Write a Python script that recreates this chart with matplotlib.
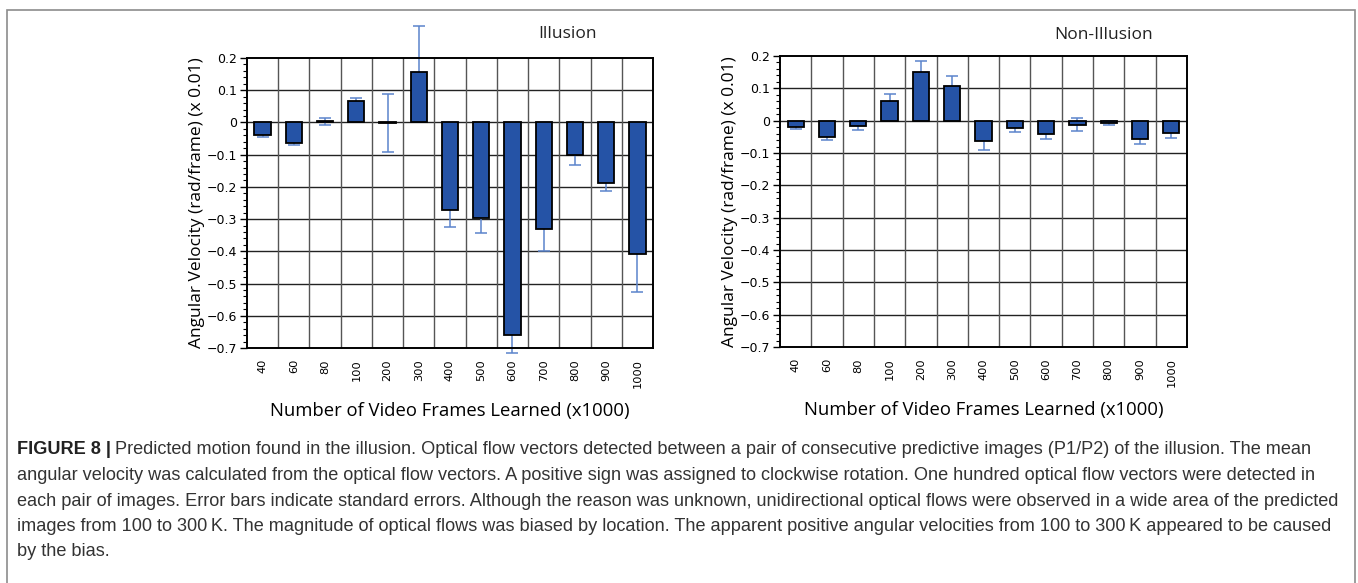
import numpy as np
import matplotlib
matplotlib.use('Agg')
import matplotlib.pyplot as plt
from matplotlib.ticker import MultipleLocator
from matplotlib.patches import Rectangle

# frames learned (x1000)
frames = ['40', '60', '80', '100', '200', '300', '400', '500', '600', '700', '800', '900', '1000']

# mean angular velocity and standard error
illusion_mean = [-0.039, -0.065, 0.003, 0.066, -0.002, 0.155, -0.273, -0.298, -0.659, -0.330, -0.101, -0.187, -0.409]
illusion_err = [0.007, 0.006, 0.012, 0.010, 0.089, 0.143, 0.050, 0.046, 0.055, 0.070, 0.032, 0.027, 0.118]

non_illusion_mean = [-0.021, -0.049, -0.018, 0.062, 0.152, 0.107, -0.064, -0.022, -0.040, -0.012, -0.006, -0.056, -0.037]
non_illusion_err = [0.005, 0.012, 0.010, 0.019, 0.032, 0.032, 0.027, 0.012, 0.018, 0.019, 0.006, 0.017, 0.016]

bar_color = '#2553a6'
err_color = '#5b84cc'
label_font = ['Open Sans', 'DejaVu Sans']
W, H = 1358, 583

fig = plt.figure(figsize=(W / 100, H / 100), dpi=100)

# outer frame around figure + caption
fig.patches.append(Rectangle((7 / W, -0.05), 1348 / W, 1.05 - 10 / H,
                             transform=fig.transFigure, fill=False,
                             edgecolor='#8c8c8c', linewidth=1.2))


def draw_panel(rect, means, errs, title, title_xy):
    ax = fig.add_axes(rect)
    x = np.arange(len(frames))
    ax.errorbar(x, means, yerr=errs, fmt='none', ecolor=err_color, elinewidth=1.1,
                capsize=4, capthick=1.1, zorder=2, clip_on=False)
    ax.bar(x, means, width=0.52, color=bar_color, edgecolor='black', linewidth=1.3, zorder=3)

    ax.set_xlim(-0.5, len(frames) - 0.5)
    ax.set_ylim(-0.7, 0.2)
    ax.yaxis.set_minor_locator(MultipleLocator(0.02))
    ax.set_yticks(np.arange(-0.7, 0.21, 0.1))
    ax.set_yticklabels(['\u22120.7', '\u22120.6', '\u22120.5', '\u22120.4', '\u22120.3', '\u22120.2',
                        '\u22120.1', '0', '0.1', '0.2'])
    for v in np.arange(-0.6, 0.15, 0.1):
        ax.axhline(v, color='#222222', linewidth=1.0, zorder=1)
    for b in np.arange(0.5, len(frames) - 0.5, 1):
        ax.axvline(b, color='#555555', linewidth=1.0, zorder=1)

    ax.set_xticks(x)
    ax.set_xticklabels(frames, rotation=90, fontsize=8.2, family=['Liberation Sans Narrow', 'DejaVu Sans'])
    ax.tick_params(axis='x', length=0, pad=8)
    ax.tick_params(axis='y', which='major', length=5, width=1, labelsize=9, pad=2)
    ax.tick_params(axis='y', which='minor', length=3, width=0.8)
    for s in ax.spines.values():
        s.set_linewidth(1.4)
        s.set_color('black')

    ax.set_ylabel('Angular Velocity (rad/frame) (x 0.01)', fontsize=12.5, family=label_font, labelpad=1)
    ax.set_xlabel('Number of Video Frames Learned (x1000)', fontsize=13.3, family=label_font, labelpad=10)
    fig.text(title_xy[0] / W, 1 - title_xy[1] / H, title, ha='center', va='center',
             fontsize=12.5, family=label_font, color='#222222')
    return ax


draw_panel([247 / W, 1 - 348 / H, 406 / W, 290 / H], illusion_mean, illusion_err, 'Illusion', (567, 34))
draw_panel([780 / W, 1 - 347 / H, 407 / W, 291 / H], non_illusion_mean, non_illusion_err, 'Non-Illusion', (1104, 35))

# caption
cap_font = ['Liberation Sans Narrow', 'Liberation Sans', 'DejaVu Sans']
caption = [
    "Predicted motion found in the illusion. Optical flow vectors detected between a pair of consecutive predictive images (P1/P2) of the illusion. The mean",
    "angular velocity was calculated from the optical flow vectors. A positive sign was assigned to clockwise rotation. One hundred optical flow vectors were detected in",
    "each pair of images. Error bars indicate standard errors. Although the reason was unknown, unidirectional optical flows were observed in a wide area of the predicted",
    "images from 100 to 300\u2009K. The magnitude of optical flows was biased by location. The apparent positive angular velocities from 100 to 300\u2009K appeared to be caused",
    "by the bias.",
]
cap_size = 13.05
y0 = 1 - 450 / H
dy = 25.5 / H
t = fig.text(17 / W, y0, 'FIGURE 8 |', fontsize=cap_size, weight='bold', family=cap_font,
             va='center', ha='left', color='#222222')
fig.canvas.draw()
bb = t.get_window_extent()
x_after = (bb.x1 + 4) / W
fig.text(x_after, y0, caption[0], fontsize=cap_size, family=cap_font, va='center', ha='left', color='#333333')
for i, line in enumerate(caption[1:], start=1):
    fig.text(17 / W, y0 - i * dy, line, fontsize=cap_size, family=cap_font, va='center', ha='left', color='#333333')

fig.savefig('out.png', dpi=100)
